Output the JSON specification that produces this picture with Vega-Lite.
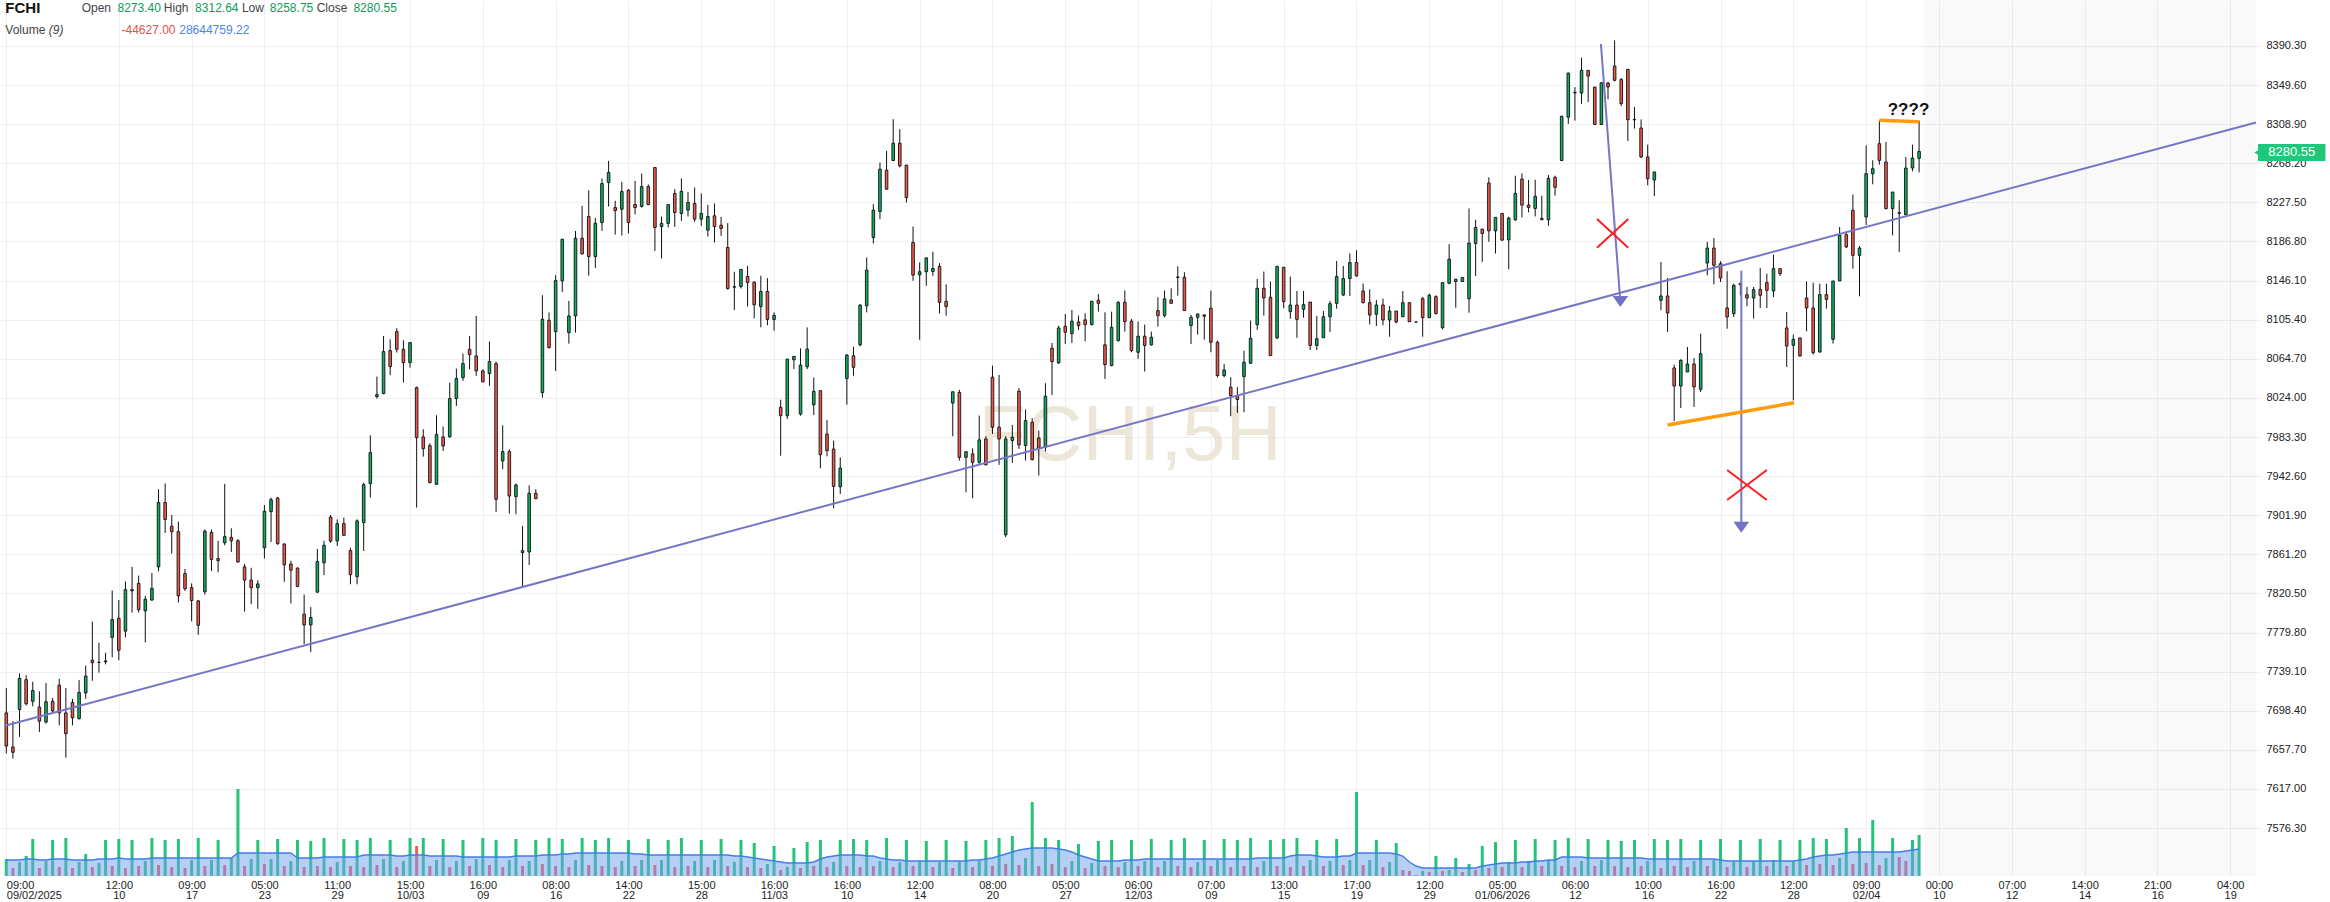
{
"$schema":"https://vega.github.io/schema/vega-lite/v6.json",
"width":2261,"height":876,
"autosize":{"type":"none"},
"padding":{"left":0,"top":0,"right":69,"bottom":26},
"background":"white",
"config":{"view":{"stroke":null},"font":"Liberation Sans"},
"datasets":{
"candles":[
{"i":0,"o":7696.1,"h":7722.0,"l":7653.8,"c":7661.6,"v":17,"u":1,"m":16},
{"i":1,"o":7660.7,"h":7687.5,"l":7648.6,"c":7655.1,"v":8,"u":0,"m":16},
{"i":2,"o":7699.6,"h":7737.2,"l":7671.1,"c":7732.0,"v":14,"u":1,"m":16},
{"i":3,"o":7730.7,"h":7735.4,"l":7703.9,"c":7705.6,"v":20,"u":1,"m":17},
{"i":4,"o":7708.2,"h":7728.5,"l":7703.0,"c":7719.4,"v":37,"u":1,"m":17},
{"i":5,"o":7702.2,"h":7718.6,"l":7676.3,"c":7687.5,"v":8,"u":0,"m":16},
{"i":6,"o":7686.6,"h":7727.2,"l":7684.9,"c":7707.8,"v":15,"u":1,"m":16},
{"i":7,"o":7708.2,"h":7711.7,"l":7697.0,"c":7698.3,"v":36,"u":1,"m":17},
{"i":8,"o":7725.1,"h":7731.5,"l":7683.2,"c":7696.1,"v":9,"u":0,"m":17},
{"i":9,"o":7696.1,"h":7722.0,"l":7649.5,"c":7674.5,"v":38,"u":1,"m":17},
{"i":10,"o":7706.9,"h":7710.8,"l":7683.2,"c":7690.9,"v":8,"u":0,"m":16},
{"i":11,"o":7690.1,"h":7730.2,"l":7689.2,"c":7717.3,"v":14,"u":1,"m":16},
{"i":12,"o":7716.8,"h":7745.4,"l":7710.8,"c":7734.5,"v":22,"u":1,"m":16},
{"i":13,"o":7751.0,"h":7791.1,"l":7729.5,"c":7748.4,"v":9,"u":0,"m":16},
{"i":14,"o":7748.8,"h":7769.1,"l":7738.0,"c":7748.6,"v":13,"u":1,"m":17},
{"i":15,"o":7749.3,"h":7758.7,"l":7746.6,"c":7750.2,"v":36,"u":1,"m":17},
{"i":16,"o":7774.7,"h":7823.5,"l":7754.0,"c":7793.3,"v":10,"u":0,"m":17},
{"i":17,"o":7794.6,"h":7813.6,"l":7751.0,"c":7761.3,"v":37,"u":1,"m":18},
{"i":18,"o":7781.2,"h":7833.0,"l":7774.7,"c":7824.4,"v":8,"u":0,"m":17},
{"i":19,"o":7823.1,"h":7848.1,"l":7800.6,"c":7824.4,"v":36,"u":1,"m":17},
{"i":20,"o":7830.9,"h":7839.1,"l":7800.6,"c":7803.6,"v":10,"u":0,"m":17},
{"i":21,"o":7802.3,"h":7818.0,"l":7769.5,"c":7814.5,"v":15,"u":1,"m":17},
{"i":22,"o":7813.6,"h":7841.7,"l":7812.7,"c":7825.7,"v":38,"u":1,"m":18},
{"i":23,"o":7848.1,"h":7928.9,"l":7843.4,"c":7915.1,"v":11,"u":0,"m":18},
{"i":24,"o":7915.1,"h":7934.9,"l":7883.5,"c":7897.4,"v":36,"u":1,"m":18},
{"i":25,"o":7890.4,"h":7902.1,"l":7861.9,"c":7884.8,"v":9,"u":0,"m":18},
{"i":26,"o":7884.8,"h":7895.2,"l":7811.0,"c":7817.9,"v":37,"u":1,"m":18},
{"i":27,"o":7841.2,"h":7846.0,"l":7823.1,"c":7825.3,"v":8,"u":0,"m":18},
{"i":28,"o":7826.5,"h":7830.9,"l":7791.5,"c":7813.1,"v":16,"u":1,"m":18},
{"i":29,"o":7812.7,"h":7813.6,"l":7777.3,"c":7787.3,"v":38,"u":1,"m":18},
{"i":30,"o":7822.2,"h":7887.0,"l":7819.2,"c":7885.3,"v":10,"u":0,"m":18},
{"i":31,"o":7884.0,"h":7887.0,"l":7843.8,"c":7855.9,"v":16,"u":1,"m":18},
{"i":32,"o":7856.8,"h":7875.3,"l":7842.5,"c":7854.6,"v":36,"u":1,"m":18},
{"i":33,"o":7873.2,"h":7934.5,"l":7870.6,"c":7879.6,"v":11,"u":0,"m":18},
{"i":34,"o":7878.8,"h":7888.3,"l":7863.7,"c":7875.3,"v":18,"u":1,"m":18},
{"i":35,"o":7875.3,"h":7877.1,"l":7852.4,"c":7853.3,"v":87,"u":1,"m":23},
{"i":36,"o":7848.1,"h":7851.1,"l":7801.5,"c":7834.3,"v":10,"u":0,"m":23},
{"i":37,"o":7834.3,"h":7847.2,"l":7809.3,"c":7826.5,"v":17,"u":1,"m":23},
{"i":38,"o":7826.5,"h":7834.3,"l":7804.5,"c":7830.4,"v":36,"u":1,"m":23},
{"i":39,"o":7868.0,"h":7912.5,"l":7856.8,"c":7906.0,"v":12,"u":0,"m":23},
{"i":40,"o":7905.6,"h":7920.3,"l":7874.0,"c":7918.1,"v":17,"u":1,"m":23},
{"i":41,"o":7919.8,"h":7921.0,"l":7871.0,"c":7872.3,"v":37,"u":1,"m":23},
{"i":42,"o":7871.9,"h":7872.7,"l":7832.6,"c":7850.3,"v":10,"u":0,"m":23},
{"i":43,"o":7851.1,"h":7854.5,"l":7810.1,"c":7844.7,"v":15,"u":1,"m":23},
{"i":44,"o":7846.9,"h":7847.5,"l":7827.0,"c":7827.8,"v":36,"u":1,"m":18},
{"i":45,"o":7798.9,"h":7819.2,"l":7767.8,"c":7787.7,"v":9,"u":0,"m":18},
{"i":46,"o":7787.7,"h":7806.2,"l":7759.6,"c":7795.4,"v":35,"u":1,"m":18},
{"i":47,"o":7821.8,"h":7866.7,"l":7821.0,"c":7853.7,"v":10,"u":0,"m":18},
{"i":48,"o":7852.4,"h":7875.3,"l":7839.5,"c":7870.6,"v":38,"u":1,"m":19},
{"i":49,"o":7900.0,"h":7902.1,"l":7873.2,"c":7874.9,"v":9,"u":0,"m":19},
{"i":50,"o":7875.1,"h":7897.6,"l":7869.9,"c":7893.1,"v":14,"u":1,"m":19},
{"i":51,"o":7893.1,"h":7899.4,"l":7880.3,"c":7881.0,"v":37,"u":1,"m":19},
{"i":52,"o":7865.0,"h":7868.0,"l":7830.0,"c":7840.0,"v":10,"u":0,"m":19},
{"i":53,"o":7838.0,"h":7897.6,"l":7830.0,"c":7896.0,"v":36,"u":1,"m":19},
{"i":54,"o":7894.2,"h":7935.8,"l":7864.7,"c":7933.7,"v":9,"u":0,"m":21},
{"i":55,"o":7934.8,"h":7985.1,"l":7920.2,"c":7967.1,"v":38,"u":1,"m":21},
{"i":56,"o":8025.4,"h":8046.2,"l":8023.3,"c":8027.4,"v":11,"u":0,"m":21},
{"i":57,"o":8028.5,"h":8088.5,"l":8027.8,"c":8072.2,"v":17,"u":1,"m":21},
{"i":58,"o":8073.2,"h":8085.0,"l":8047.6,"c":8056.6,"v":36,"u":1,"m":21},
{"i":59,"o":8093.0,"h":8096.5,"l":8071.2,"c":8074.6,"v":9,"u":0,"m":20},
{"i":60,"o":8074.6,"h":8084.0,"l":8039.9,"c":8060.8,"v":15,"u":1,"m":20},
{"i":61,"o":8060.8,"h":8082.0,"l":8055.6,"c":8081.6,"v":38,"u":1,"m":21},
{"i":62,"o":8034.7,"h":8035.8,"l":7909.8,"c":7982.7,"v":30,"u":0,"m":21},
{"i":63,"o":7983.4,"h":7991.4,"l":7962.9,"c":7971.2,"v":38,"u":1,"m":21},
{"i":64,"o":7974.3,"h":7976.8,"l":7935.1,"c":7935.8,"v":10,"u":0,"m":20},
{"i":65,"o":7934.1,"h":8005.9,"l":7933.4,"c":7985.8,"v":16,"u":1,"m":20},
{"i":66,"o":7983.4,"h":7994.1,"l":7968.8,"c":7974.0,"v":37,"u":1,"m":20},
{"i":67,"o":7983.4,"h":8039.9,"l":7982.7,"c":8023.3,"v":9,"u":0,"m":20},
{"i":68,"o":8023.3,"h":8054.5,"l":8015.6,"c":8044.1,"v":15,"u":1,"m":20},
{"i":69,"o":8045.1,"h":8070.1,"l":8041.7,"c":8059.7,"v":36,"u":1,"m":19},
{"i":70,"o":8074.6,"h":8088.5,"l":8053.8,"c":8069.1,"v":10,"u":0,"m":19},
{"i":71,"o":8067.7,"h":8109.4,"l":8046.9,"c":8052.1,"v":17,"u":1,"m":19},
{"i":72,"o":8052.1,"h":8053.8,"l":8040.6,"c":8040.6,"v":38,"u":1,"m":19},
{"i":73,"o":8049.3,"h":8082.6,"l":8036.5,"c":8061.8,"v":11,"u":0,"m":19},
{"i":74,"o":8059.7,"h":8061.8,"l":7905.3,"c":7918.5,"v":36,"u":1,"m":19},
{"i":75,"o":7958.4,"h":7995.5,"l":7949.7,"c":7968.1,"v":9,"u":0,"m":19},
{"i":76,"o":7968.1,"h":7970.5,"l":7903.6,"c":7921.9,"v":16,"u":1,"m":19},
{"i":77,"o":7921.3,"h":7934.8,"l":7902.9,"c":7933.4,"v":37,"u":1,"m":20},
{"i":78,"o":7863.0,"h":7890.7,"l":7828.0,"c":7865.0,"v":10,"u":0,"m":20},
{"i":79,"o":7863.6,"h":7933.0,"l":7850.0,"c":7924.7,"v":15,"u":1,"m":20},
{"i":80,"o":7924.7,"h":7928.9,"l":7918.5,"c":7919.2,"v":36,"u":1,"m":20},
{"i":81,"o":8029.5,"h":8130.9,"l":8024.3,"c":8105.9,"v":12,"u":0,"m":21},
{"i":82,"o":8104.8,"h":8112.8,"l":8075.3,"c":8076.4,"v":38,"u":1,"m":21},
{"i":83,"o":8093.0,"h":8151.7,"l":8052.1,"c":8146.1,"v":10,"u":0,"m":21},
{"i":84,"o":8145.8,"h":8189.2,"l":8134.3,"c":8189.2,"v":37,"u":1,"m":22},
{"i":85,"o":8092.0,"h":8125.0,"l":8080.5,"c":8109.3,"v":9,"u":0,"m":22},
{"i":86,"o":8109.3,"h":8197.8,"l":8092.0,"c":8190.2,"v":16,"u":1,"m":23},
{"i":87,"o":8190.2,"h":8223.9,"l":8173.2,"c":8173.9,"v":38,"u":1,"m":23},
{"i":88,"o":8212.8,"h":8240.2,"l":8151.3,"c":8171.1,"v":11,"u":0,"m":23},
{"i":89,"o":8171.1,"h":8211.4,"l":8159.3,"c":8205.8,"v":36,"u":1,"m":23},
{"i":90,"o":8206.5,"h":8252.3,"l":8197.8,"c":8247.1,"v":10,"u":0,"m":23},
{"i":91,"o":8248.2,"h":8270.7,"l":8223.2,"c":8258.6,"v":38,"u":1,"m":23},
{"i":92,"o":8222.1,"h":8229.1,"l":8194.0,"c":8219.0,"v":9,"u":0,"m":23},
{"i":93,"o":8220.4,"h":8248.9,"l":8193.0,"c":8238.8,"v":15,"u":1,"m":23},
{"i":94,"o":8240.2,"h":8241.2,"l":8195.1,"c":8206.5,"v":36,"u":1,"m":23},
{"i":95,"o":8225.3,"h":8249.9,"l":8214.9,"c":8222.1,"v":10,"u":0,"m":22},
{"i":96,"o":8223.2,"h":8257.5,"l":8222.1,"c":8244.0,"v":16,"u":1,"m":22},
{"i":97,"o":8244.0,"h":8246.1,"l":8224.6,"c":8225.3,"v":37,"u":1,"m":21},
{"i":98,"o":8263.8,"h":8264.0,"l":8177.1,"c":8201.4,"v":11,"u":0,"m":21},
{"i":99,"o":8202.4,"h":8212.8,"l":8169.1,"c":8205.6,"v":16,"u":1,"m":21},
{"i":100,"o":8205.6,"h":8225.3,"l":8201.4,"c":8225.3,"v":36,"u":1,"m":21},
{"i":101,"o":8236.8,"h":8241.3,"l":8202.1,"c":8217.0,"v":9,"u":0,"m":21},
{"i":102,"o":8216.0,"h":8252.4,"l":8208.3,"c":8238.9,"v":38,"u":1,"m":21},
{"i":103,"o":8219.4,"h":8238.5,"l":8212.8,"c":8227.4,"v":10,"u":0,"m":21},
{"i":104,"o":8226.4,"h":8243.0,"l":8207.3,"c":8210.1,"v":15,"u":1,"m":21},
{"i":105,"o":8210.1,"h":8236.8,"l":8203.1,"c":8216.0,"v":36,"u":1,"m":21},
{"i":106,"o":8198.6,"h":8225.0,"l":8192.0,"c":8212.8,"v":9,"u":0,"m":21},
{"i":107,"o":8213.5,"h":8226.4,"l":8185.8,"c":8202.4,"v":16,"u":1,"m":21},
{"i":108,"o":8203.8,"h":8212.5,"l":8192.7,"c":8200.4,"v":37,"u":1,"m":21},
{"i":109,"o":8180.6,"h":8205.9,"l":8136.6,"c":8137.9,"v":10,"u":0,"m":21},
{"i":110,"o":8139.7,"h":8155.3,"l":8115.4,"c":8139.2,"v":14,"u":1,"m":20},
{"i":111,"o":8140.0,"h":8157.7,"l":8137.9,"c":8157.7,"v":36,"u":1,"m":20},
{"i":112,"o":8150.4,"h":8161.5,"l":8119.2,"c":8144.2,"v":9,"u":0,"m":19},
{"i":113,"o":8144.5,"h":8145.2,"l":8106.7,"c":8120.9,"v":33,"u":1,"m":18},
{"i":114,"o":8119.2,"h":8151.1,"l":8097.4,"c":8134.8,"v":8,"u":0,"m":17},
{"i":115,"o":8134.8,"h":8148.7,"l":8099.5,"c":8105.7,"v":12,"u":1,"m":16},
{"i":116,"o":8105.7,"h":8113.0,"l":8093.9,"c":8109.8,"v":30,"u":1,"m":15},
{"i":117,"o":8014.2,"h":8022.1,"l":7963.9,"c":8005.5,"v":6,"u":0,"m":14},
{"i":118,"o":8005.5,"h":8064.4,"l":8002.0,"c":8064.4,"v":9,"u":1,"m":13},
{"i":119,"o":8063.7,"h":8067.2,"l":8054.0,"c":8067.2,"v":28,"u":1,"m":13},
{"i":120,"o":8007.2,"h":8075.5,"l":8005.5,"c":8058.2,"v":8,"u":0,"m":13},
{"i":121,"o":8056.4,"h":8097.4,"l":8054.0,"c":8074.8,"v":34,"u":1,"m":13},
{"i":122,"o":8016.9,"h":8045.3,"l":8006.2,"c":8030.8,"v":10,"u":0,"m":14},
{"i":123,"o":8031.5,"h":8031.5,"l":7950.7,"c":7964.9,"v":36,"u":1,"m":17},
{"i":124,"o":7986.4,"h":8001.0,"l":7963.2,"c":7969.1,"v":9,"u":0,"m":19},
{"i":125,"o":7970.8,"h":7979.5,"l":7909.1,"c":7931.9,"v":14,"u":1,"m":20},
{"i":126,"o":7931.5,"h":7962.1,"l":7924.0,"c":7951.0,"v":36,"u":1,"m":21},
{"i":127,"o":8044.3,"h":8069.6,"l":8016.9,"c":8068.6,"v":10,"u":0,"m":21},
{"i":128,"o":8067.9,"h":8077.3,"l":8047.1,"c":8055.8,"v":37,"u":1,"m":21},
{"i":129,"o":8079.3,"h":8121.6,"l":8077.6,"c":8120.6,"v":9,"u":0,"m":21},
{"i":130,"o":8119.9,"h":8170.2,"l":8113.0,"c":8157.0,"v":36,"u":1,"m":20},
{"i":131,"o":8191.0,"h":8225.7,"l":8184.8,"c":8219.4,"v":10,"u":0,"m":20},
{"i":132,"o":8218.0,"h":8269.0,"l":8210.1,"c":8262.1,"v":15,"u":1,"m":18},
{"i":133,"o":8261.0,"h":8281.2,"l":8240.6,"c":8241.3,"v":38,"u":1,"m":17},
{"i":134,"o":8271.1,"h":8314.1,"l":8270.4,"c":8289.1,"v":9,"u":0,"m":16},
{"i":135,"o":8289.1,"h":8303.7,"l":8263.8,"c":8265.6,"v":14,"u":1,"m":16},
{"i":136,"o":8266.3,"h":8266.3,"l":8227.4,"c":8232.6,"v":36,"u":1,"m":15},
{"i":137,"o":8185.8,"h":8202.4,"l":8145.9,"c":8151.8,"v":10,"u":0,"m":15},
{"i":138,"o":8152.1,"h":8165.0,"l":8084.5,"c":8155.3,"v":15,"u":1,"m":15},
{"i":139,"o":8155.3,"h":8169.8,"l":8140.7,"c":8169.8,"v":35,"u":1,"m":15},
{"i":140,"o":8155.6,"h":8176.1,"l":8151.1,"c":8158.7,"v":9,"u":0,"m":15},
{"i":141,"o":8160.8,"h":8164.3,"l":8111.9,"c":8123.4,"v":14,"u":1,"m":15},
{"i":142,"o":8124.4,"h":8142.1,"l":8109.5,"c":8119.2,"v":36,"u":1,"m":15},
{"i":143,"o":8018.6,"h":8030.4,"l":7984.0,"c":8030.4,"v":8,"u":0,"m":15},
{"i":144,"o":8029.7,"h":8032.5,"l":7958.7,"c":7962.1,"v":14,"u":1,"m":15},
{"i":145,"o":7962.1,"h":7968.0,"l":7925.7,"c":7968.0,"v":35,"u":1,"m":15},
{"i":146,"o":7965.7,"h":7971.6,"l":7919.6,"c":7957.0,"v":9,"u":0,"m":16},
{"i":147,"o":7957.0,"h":8005.6,"l":7955.3,"c":7980.3,"v":15,"u":1,"m":16},
{"i":148,"o":7981.3,"h":7984.1,"l":7954.0,"c":7954.3,"v":36,"u":1,"m":17},
{"i":149,"o":8045.5,"h":8057.6,"l":7986.5,"c":7993.5,"v":10,"u":0,"m":18},
{"i":150,"o":7993.5,"h":8047.9,"l":7954.3,"c":7981.3,"v":38,"u":1,"m":20},
{"i":151,"o":7881.4,"h":7984.1,"l":7879.0,"c":7981.3,"v":12,"u":0,"m":22},
{"i":152,"o":7979.6,"h":7995.9,"l":7956.4,"c":7983.1,"v":40,"u":1,"m":24},
{"i":153,"o":8030.9,"h":8034.1,"l":7970.9,"c":7975.1,"v":11,"u":0,"m":26},
{"i":154,"o":7974.4,"h":8011.9,"l":7958.8,"c":8000.4,"v":18,"u":1,"m":27},
{"i":155,"o":7998.7,"h":8002.8,"l":7958.8,"c":7959.8,"v":74,"u":1,"m":28},
{"i":156,"o":7982.4,"h":7990.0,"l":7943.2,"c":7972.0,"v":10,"u":0,"m":28},
{"i":157,"o":7972.7,"h":8039.3,"l":7968.2,"c":8025.7,"v":38,"u":1,"m":28},
{"i":158,"o":8075.7,"h":8081.2,"l":8027.1,"c":8061.8,"v":12,"u":0,"m":28},
{"i":159,"o":8060.4,"h":8099.3,"l":8059.4,"c":8096.8,"v":36,"u":1,"m":27},
{"i":160,"o":8098.6,"h":8111.4,"l":8080.2,"c":8092.3,"v":9,"u":0,"m":26},
{"i":161,"o":8090.9,"h":8115.6,"l":8081.2,"c":8103.8,"v":15,"u":1,"m":24},
{"i":162,"o":8103.1,"h":8109.7,"l":8094.8,"c":8099.3,"v":32,"u":1,"m":21},
{"i":163,"o":8105.2,"h":8112.1,"l":8083.0,"c":8100.3,"v":8,"u":0,"m":19},
{"i":164,"o":8100.3,"h":8124.6,"l":8099.3,"c":8124.6,"v":13,"u":1,"m":17},
{"i":165,"o":8125.6,"h":8132.2,"l":8113.8,"c":8122.5,"v":35,"u":1,"m":15},
{"i":166,"o":8079.2,"h":8113.1,"l":8043.8,"c":8058.7,"v":10,"u":0,"m":15},
{"i":167,"o":8057.6,"h":8113.8,"l":8056.9,"c":8097.5,"v":36,"u":1,"m":15},
{"i":168,"o":8083.7,"h":8124.6,"l":8082.6,"c":8123.5,"v":9,"u":0,"m":15},
{"i":169,"o":8123.5,"h":8135.7,"l":8093.0,"c":8103.4,"v":14,"u":1,"m":16},
{"i":170,"o":8103.8,"h":8106.2,"l":8071.5,"c":8073.3,"v":36,"u":1,"m":16},
{"i":171,"o":8071.5,"h":8103.4,"l":8064.6,"c":8088.2,"v":10,"u":0,"m":16},
{"i":172,"o":8088.2,"h":8100.3,"l":8051.4,"c":8078.5,"v":15,"u":1,"m":17},
{"i":173,"o":8079.2,"h":8093.0,"l":8078.5,"c":8087.1,"v":37,"u":1,"m":17},
{"i":174,"o":8114.9,"h":8128.8,"l":8098.2,"c":8109.7,"v":9,"u":0,"m":17},
{"i":175,"o":8109.7,"h":8135.7,"l":8107.9,"c":8127.0,"v":15,"u":1,"m":17},
{"i":176,"o":8126.0,"h":8138.1,"l":8121.8,"c":8122.5,"v":36,"u":1,"m":17},
{"i":177,"o":8149.9,"h":8161.0,"l":8130.5,"c":8149.3,"v":10,"u":0,"m":17},
{"i":178,"o":8149.6,"h":8154.8,"l":8114.9,"c":8114.9,"v":38,"u":1,"m":17},
{"i":179,"o":8099.3,"h":8110.4,"l":8080.2,"c":8107.9,"v":9,"u":0,"m":17},
{"i":180,"o":8107.9,"h":8111.4,"l":8089.9,"c":8111.4,"v":14,"u":1,"m":17},
{"i":181,"o":8110.4,"h":8110.6,"l":8084.7,"c":8109.0,"v":36,"u":1,"m":17},
{"i":182,"o":8117.3,"h":8135.7,"l":8071.5,"c":8081.9,"v":10,"u":0,"m":17},
{"i":183,"o":8081.9,"h":8083.7,"l":8045.5,"c":8047.2,"v":16,"u":1,"m":17},
{"i":184,"o":8047.2,"h":8059.4,"l":8045.5,"c":8053.1,"v":37,"u":1,"m":17},
{"i":185,"o":8035.1,"h":8045.5,"l":8004.9,"c":8026.4,"v":9,"u":0,"m":17},
{"i":186,"o":8026.4,"h":8035.1,"l":8008.4,"c":8022.3,"v":36,"u":1,"m":17},
{"i":187,"o":8046.2,"h":8073.2,"l":8009.1,"c":8061.1,"v":10,"u":0,"m":17},
{"i":188,"o":8060.1,"h":8104.5,"l":8059.4,"c":8086.1,"v":38,"u":1,"m":17},
{"i":189,"o":8100.3,"h":8147.8,"l":8094.8,"c":8138.1,"v":9,"u":0,"m":18},
{"i":190,"o":8138.1,"h":8155.5,"l":8109.7,"c":8128.1,"v":15,"u":1,"m":18},
{"i":191,"o":8128.8,"h":8145.1,"l":8068.1,"c":8068.1,"v":36,"u":1,"m":18},
{"i":192,"o":8086.4,"h":8161.7,"l":8085.4,"c":8160.7,"v":10,"u":0,"m":18},
{"i":193,"o":8160.0,"h":8160.0,"l":8117.3,"c":8124.2,"v":37,"u":1,"m":18},
{"i":194,"o":8113.8,"h":8150.3,"l":8106.4,"c":8120.7,"v":9,"u":0,"m":20},
{"i":195,"o":8120.7,"h":8135.3,"l":8086.6,"c":8105.8,"v":38,"u":1,"m":21},
{"i":196,"o":8116.2,"h":8135.3,"l":8107.5,"c":8121.1,"v":10,"u":0,"m":21},
{"i":197,"o":8123.8,"h":8123.8,"l":8073.8,"c":8078.6,"v":16,"u":1,"m":21},
{"i":198,"o":8078.6,"h":8109.2,"l":8073.8,"c":8085.6,"v":36,"u":1,"m":20},
{"i":199,"o":8086.6,"h":8114.4,"l":8086.6,"c":8108.5,"v":10,"u":0,"m":19},
{"i":200,"o":8108.5,"h":8124.8,"l":8092.6,"c":8122.1,"v":15,"u":1,"m":19},
{"i":201,"o":8122.4,"h":8166.6,"l":8116.9,"c":8150.3,"v":37,"u":1,"m":19},
{"i":202,"o":8131.2,"h":8161.4,"l":8130.1,"c":8148.2,"v":11,"u":0,"m":20},
{"i":203,"o":8148.2,"h":8174.3,"l":8130.1,"c":8164.9,"v":16,"u":1,"m":20},
{"i":204,"o":8164.9,"h":8177.8,"l":8150.3,"c":8151.0,"v":84,"u":1,"m":23},
{"i":205,"o":8135.3,"h":8143.0,"l":8122.4,"c":8123.1,"v":11,"u":0,"m":23},
{"i":206,"o":8123.1,"h":8137.0,"l":8100.5,"c":8110.3,"v":16,"u":1,"m":23},
{"i":207,"o":8111.0,"h":8125.9,"l":8098.8,"c":8120.7,"v":36,"u":1,"m":23},
{"i":208,"o":8120.7,"h":8127.3,"l":8099.5,"c":8105.1,"v":9,"u":0,"m":23},
{"i":209,"o":8105.1,"h":8119.7,"l":8087.7,"c":8114.4,"v":14,"u":1,"m":23},
{"i":210,"o":8114.4,"h":8114.4,"l":8101.6,"c":8103.0,"v":33,"u":1,"m":22},
{"i":211,"o":8108.5,"h":8135.3,"l":8108.5,"c":8123.1,"v":6,"u":0,"m":20},
{"i":212,"o":8123.1,"h":8123.5,"l":8103.0,"c":8103.3,"v":5,"u":0,"m":14},
{"i":213,"o":8103.0,"h":8103.5,"l":8102.6,"c":8103.0,"v":1,"u":0,"m":10},
{"i":214,"o":8127.3,"h":8129.1,"l":8087.7,"c":8107.5,"v":5,"u":1,"m":8},
{"i":215,"o":8107.5,"h":8132.5,"l":8107.5,"c":8130.8,"v":4,"u":0,"m":8},
{"i":216,"o":8129.4,"h":8130.8,"l":8111.0,"c":8111.7,"v":20,"u":1,"m":8},
{"i":217,"o":8097.1,"h":8144.0,"l":8095.3,"c":8144.0,"v":5,"u":0,"m":8},
{"i":218,"o":8143.3,"h":8184.0,"l":8142.3,"c":8168.4,"v":6,"u":1,"m":8},
{"i":219,"o":8145.1,"h":8147.6,"l":8117.9,"c":8147.6,"v":18,"u":1,"m":8},
{"i":220,"o":8145.1,"h":8149.3,"l":8145.1,"c":8149.2,"v":4,"u":0,"m":8},
{"i":221,"o":8127.3,"h":8221.2,"l":8112.7,"c":8185.1,"v":12,"u":1,"m":8},
{"i":222,"o":8184.7,"h":8209.4,"l":8151.0,"c":8201.4,"v":6,"u":0,"m":8},
{"i":223,"o":8199.7,"h":8199.7,"l":8165.6,"c":8195.2,"v":30,"u":1,"m":10},
{"i":224,"o":8247.7,"h":8253.6,"l":8186.5,"c":8197.9,"v":8,"u":0,"m":11},
{"i":225,"o":8197.9,"h":8211.9,"l":8174.3,"c":8211.9,"v":34,"u":1,"m":12},
{"i":226,"o":8216.0,"h":8216.0,"l":8187.5,"c":8188.2,"v":9,"u":0,"m":13},
{"i":227,"o":8188.5,"h":8212.6,"l":8157.9,"c":8211.2,"v":14,"u":1,"m":13},
{"i":228,"o":8209.4,"h":8255.3,"l":8208.4,"c":8236.9,"v":36,"u":1,"m":13},
{"i":229,"o":8251.8,"h":8257.8,"l":8211.9,"c":8224.7,"v":9,"u":0,"m":14},
{"i":230,"o":8224.7,"h":8250.8,"l":8217.1,"c":8222.3,"v":15,"u":1,"m":14},
{"i":231,"o":8221.2,"h":8251.1,"l":8212.9,"c":8233.8,"v":37,"u":1,"m":15},
{"i":232,"o":8210.8,"h":8234.5,"l":8209.4,"c":8209.4,"v":10,"u":0,"m":15},
{"i":233,"o":8209.4,"h":8256.0,"l":8203.2,"c":8252.5,"v":16,"u":1,"m":16},
{"i":234,"o":8253.6,"h":8255.3,"l":8234.5,"c":8243.2,"v":36,"u":1,"m":16},
{"i":235,"o":8271.0,"h":8317.5,"l":8270.5,"c":8317.2,"v":10,"u":0,"m":19},
{"i":236,"o":8316.2,"h":8362.5,"l":8309.3,"c":8362.1,"v":38,"u":1,"m":19},
{"i":237,"o":8342.0,"h":8347.5,"l":8312.7,"c":8341.5,"v":9,"u":0,"m":19},
{"i":238,"o":8341.3,"h":8378.1,"l":8330.1,"c":8364.9,"v":15,"u":1,"m":19},
{"i":239,"o":8364.9,"h":8364.9,"l":8331.9,"c":8359.0,"v":37,"u":1,"m":18},
{"i":240,"o":8347.5,"h":8347.8,"l":8308.3,"c":8308.6,"v":10,"u":0,"m":18},
{"i":241,"o":8308.6,"h":8352.7,"l":8308.3,"c":8352.0,"v":16,"u":1,"m":18},
{"i":242,"o":8351.8,"h":8352.8,"l":8334.8,"c":8347.6,"v":36,"u":1,"m":18},
{"i":243,"o":8369.5,"h":8396.2,"l":8353.5,"c":8354.6,"v":10,"u":0,"m":18},
{"i":244,"o":8355.3,"h":8357.0,"l":8327.8,"c":8330.3,"v":35,"u":1,"m":18},
{"i":245,"o":8366.0,"h":8366.0,"l":8291.4,"c":8313.6,"v":9,"u":0,"m":18},
{"i":246,"o":8313.8,"h":8326.8,"l":8304.3,"c":8313.5,"v":36,"u":1,"m":18},
{"i":247,"o":8304.9,"h":8313.9,"l":8273.7,"c":8274.8,"v":10,"u":0,"m":18},
{"i":248,"o":8274.8,"h":8287.6,"l":8245.3,"c":8252.2,"v":15,"u":1,"m":17},
{"i":249,"o":8250.8,"h":8259.2,"l":8234.2,"c":8259.2,"v":37,"u":1,"m":17},
{"i":250,"o":8125.6,"h":8165.5,"l":8115.2,"c":8130.1,"v":8,"u":0,"m":17},
{"i":251,"o":8130.1,"h":8148.8,"l":8092.6,"c":8112.4,"v":36,"u":1,"m":17},
{"i":252,"o":8055.2,"h":8058.6,"l":7999.9,"c":8036.4,"v":10,"u":0,"m":17},
{"i":253,"o":8036.4,"h":8064.2,"l":8013.5,"c":8063.1,"v":37,"u":1,"m":17},
{"i":254,"o":8051.0,"h":8077.0,"l":8051.0,"c":8059.3,"v":9,"u":0,"m":17},
{"i":255,"o":8059.3,"h":8065.5,"l":8014.6,"c":8035.4,"v":15,"u":1,"m":17},
{"i":256,"o":8032.9,"h":8090.9,"l":8030.2,"c":8070.1,"v":36,"u":1,"m":17},
{"i":257,"o":8164.4,"h":8186.3,"l":8151.6,"c":8180.0,"v":10,"u":0,"m":17},
{"i":258,"o":8180.0,"h":8190.4,"l":8142.2,"c":8162.0,"v":16,"u":1,"m":17},
{"i":259,"o":8163.7,"h":8166.2,"l":8144.6,"c":8148.8,"v":37,"u":1,"m":16},
{"i":260,"o":8117.6,"h":8155.8,"l":8096.1,"c":8108.2,"v":9,"u":0,"m":15},
{"i":261,"o":8111.7,"h":8142.9,"l":8108.2,"c":8141.2,"v":14,"u":1,"m":15},
{"i":262,"o":8143.3,"h":8143.6,"l":8130.8,"c":8141.9,"v":36,"u":1,"m":15},
{"i":263,"o":8131.5,"h":8139.5,"l":8119.3,"c":8128.0,"v":9,"u":0,"m":15},
{"i":264,"o":8128.0,"h":8139.5,"l":8106.5,"c":8136.7,"v":15,"u":1,"m":15},
{"i":265,"o":8137.0,"h":8159.2,"l":8117.6,"c":8130.8,"v":37,"u":1,"m":15},
{"i":266,"o":8144.0,"h":8153.3,"l":8117.6,"c":8136.0,"v":10,"u":0,"m":15},
{"i":267,"o":8135.3,"h":8173.1,"l":8129.0,"c":8158.5,"v":16,"u":1,"m":15},
{"i":268,"o":8158.5,"h":8159.2,"l":8150.9,"c":8153.3,"v":36,"u":1,"m":15},
{"i":269,"o":8096.8,"h":8113.4,"l":8056.2,"c":8078.0,"v":10,"u":0,"m":15},
{"i":270,"o":8078.7,"h":8089.8,"l":8021.5,"c":8085.0,"v":15,"u":1,"m":15},
{"i":271,"o":8086.4,"h":8086.8,"l":8067.2,"c":8067.6,"v":36,"u":1,"m":16},
{"i":272,"o":8128.0,"h":8145.3,"l":8093.3,"c":8117.6,"v":11,"u":0,"m":17},
{"i":273,"o":8117.6,"h":8143.9,"l":8069.0,"c":8071.1,"v":38,"u":1,"m":19},
{"i":274,"o":8071.8,"h":8142.9,"l":8071.1,"c":8131.5,"v":12,"u":0,"m":20},
{"i":275,"o":8131.5,"h":8142.9,"l":8116.9,"c":8126.6,"v":37,"u":1,"m":21},
{"i":276,"o":8085.0,"h":8145.7,"l":8080.5,"c":8145.7,"v":11,"u":0,"m":21},
{"i":277,"o":8145.7,"h":8201.9,"l":8145.7,"c":8193.2,"v":18,"u":1,"m":22},
{"i":278,"o":8193.9,"h":8197.4,"l":8180.0,"c":8181.1,"v":48,"u":1,"m":23},
{"i":279,"o":8219.2,"h":8235.6,"l":8158.5,"c":8172.4,"v":12,"u":0,"m":24},
{"i":280,"o":8172.4,"h":8182.1,"l":8129.7,"c":8180.0,"v":38,"u":1,"m":24},
{"i":281,"o":8212.3,"h":8286.9,"l":8204.0,"c":8257.4,"v":13,"u":0,"m":24},
{"i":282,"o":8257.4,"h":8271.3,"l":8246.3,"c":8262.6,"v":56,"u":1,"m":24},
{"i":283,"o":8288.6,"h":8312.9,"l":8266.8,"c":8271.3,"v":11,"u":0,"m":24},
{"i":284,"o":8269.6,"h":8290.4,"l":8220.3,"c":8221.0,"v":18,"u":1,"m":24},
{"i":285,"o":8221.0,"h":8238.3,"l":8193.2,"c":8238.3,"v":38,"u":1,"m":24},
{"i":286,"o":8216.8,"h":8229.7,"l":8175.9,"c":8216.0,"v":19,"u":0,"m":24},
{"i":287,"o":8214.7,"h":8274.8,"l":8214.7,"c":8263.3,"v":15,"u":0,"m":25},
{"i":288,"o":8263.3,"h":8287.6,"l":8259.8,"c":8273.7,"v":36,"u":1,"m":26},
{"i":289,"o":8273.4,"h":8312.64,"l":8258.75,"c":8280.55,"v":41,"u":1,"m":27}
]
},
"resolve":{"scale":{"y":"independent"}},
"layer":[
{"layer":[
 {"data":{"name":"candles"},
  "mark":{"type":"bar","size":3},
  "encoding":{
   "x":{"field":"i","type":"quantitative","scale":{"domain":[-0.1955,339.905],"nice":false,"zero":false}},
   "y":{"field":"v","type":"quantitative","scale":{"domain":[0,876],"nice":false,"zero":true},"axis":null},
   "fill":{"condition":{"test":"datum.u == 1","value":"#26c27d"},"value":"#e2605f"}}},
 {"data":{"name":"candles"},
  "mark":{"type":"area","color":"#6f9ff0","opacity":0.5,"line":{"color":"#3f7fe6","strokeWidth":1.4}},
  "encoding":{
   "x":{"field":"i","type":"quantitative","scale":{"domain":[-0.1955,339.905],"nice":false,"zero":false}},
   "y":{"field":"m","type":"quantitative","scale":{"domain":[0,876],"nice":false,"zero":true},"axis":null}}}
]},
{"layer":[
{"data":{"values":[{"x":289.8,"x2":339.905,"y":7526.34,"y2":8438.18}]},
 "mark":{"type":"rect","fill":"#000000","opacity":0.022},
 "encoding":{
  "x":{"field":"x","type":"quantitative","scale":{"domain":[-0.1955,339.905],"nice":false,"zero":false},
   "axis":{"orient":"bottom","title":null,"values":[0,17,28,39,50,61,72,83,94,105,116,127,138,149,160,171,182,193,204,215,226,237,248,259,270,281,292,303,314,325,336],
    "labelExpr":"datum.value == 0 ? ['09:00','09/02/2025'] : [['12:00','10'],['09:00','17'],['05:00','23'],['11:00','29'],['15:00','10/03'],['16:00','09'],['08:00','16'],['14:00','22'],['15:00','28'],['16:00','11/03'],['16:00','10'],['12:00','14'],['08:00','20'],['05:00','27'],['06:00','12/03'],['07:00','09'],['13:00','15'],['17:00','19'],['12:00','29'],['05:00','01/06/2026'],['06:00','12'],['10:00','16'],['16:00','22'],['12:00','28'],['09:00','02/04'],['00:00','10'],['07:00','12'],['14:00','14'],['21:00','16'],['04:00','19']][round((datum.value-17)/11)]",
    "grid":true,"gridColor":"#efefef","gridWidth":1,"domain":false,"ticks":false,
    "labelAlign":{"condition":{"test":"datum.value == 0","value":"left"},"value":"center"},
    "labelFontSize":11,"labelColor":"#222222","labelPadding":3,"labelBaseline":"top","labelLineHeight":10,"labelFlush":false,"labelOverlap":false,"labelFont":"Liberation Sans"}},
  "x2":{"field":"x2"},
  "y":{"field":"y","type":"quantitative","scale":{"domain":[7526.34,8438.18],"nice":false,"zero":false},
   "axis":{"orient":"right","title":null,"values":[7576.3,7617.0,7657.7,7698.4,7739.1,7779.8,7820.5,7861.2,7901.9,7942.6,7983.3,8024.0,8064.7,8105.4,8146.1,8186.8,8227.5,8268.2,8308.9,8349.6,8390.3],
    "format":".2f","grid":true,"gridColor":"#efefef","gridWidth":1,"domain":false,"ticks":false,
    "labelFontSize":11,"labelColor":"#222222","labelPadding":5,"labelAlign":"left","labelBaseline":"middle","labelFont":"Liberation Sans","labelOverlap":false}},
  "y2":{"field":"y2"}}},
{"data":{"values":[{"x":169.8,"y":7959.4,"t":"FCHI,5H"}]},
 "mark":{"type":"text","fontSize":78,"align":"center","baseline":"alphabetic","color":"#e6e0cc","opacity":0.75,"font":"Liberation Sans"},
 "encoding":{
  "x":{"field":"x","type":"quantitative","scale":{"domain":[-0.1955,339.905],"nice":false,"zero":false}},
  "y":{"field":"y","type":"quantitative","scale":{"domain":[7526.34,8438.18],"nice":false,"zero":false}},
  "text":{"field":"t"}}},
{"data":{"name":"candles"},
 "mark":{"type":"rule","color":"#111111","strokeWidth":1},
 "encoding":{
  "x":{"field":"i","type":"quantitative","scale":{"domain":[-0.1955,339.905],"nice":false,"zero":false}},
  "y":{"field":"l","type":"quantitative","scale":{"domain":[7526.34,8438.18],"nice":false,"zero":false}},
  "y2":{"field":"h"}}},
{"data":{"name":"candles"},
 "mark":{"type":"bar","size":2.6,"stroke":"#111111","strokeWidth":0.9},
 "encoding":{
  "x":{"field":"i","type":"quantitative","scale":{"domain":[-0.1955,339.905],"nice":false,"zero":false}},
  "y":{"field":"o","type":"quantitative","scale":{"domain":[7526.34,8438.18],"nice":false,"zero":false}},
  "y2":{"field":"c"},
  "fill":{"condition":{"test":"datum.c >= datum.o","value":"#0fae62"},"value":"#f0584e"}}},
{"data":{"values":[
  {"x":-0.1955,"y":7682.8,"x2":339.905,"y2":8310.7,"k":"trend"},
  {"x":240.93,"y":8392.4,"x2":243.8,"y2":8130.1,"k":"arrow1"},
  {"x":262.14,"y":8156.4,"x2":262.14,"y2":7894.8,"k":"arrow2"}]},
 "mark":{"type":"rule","color":"#7676c6","strokeWidth":2},
 "encoding":{
  "x":{"field":"x","type":"quantitative","scale":{"domain":[-0.1955,339.905],"nice":false,"zero":false}},
  "y":{"field":"y","type":"quantitative","scale":{"domain":[7526.34,8438.18],"nice":false,"zero":false}},
  "x2":{"field":"x2"},"y2":{"field":"y2"}}},
{"data":{"values":[{"x":243.87,"y":8124.4},{"x":262.14,"y":7889.4}]},
 "mark":{"type":"point","shape":"M-1,-0.7L1,-0.7L0,0.7Z","filled":true,"size":246,"color":"#6c6cc0","opacity":0.95},
 "encoding":{
  "x":{"field":"x","type":"quantitative","scale":{"domain":[-0.1955,339.905],"nice":false,"zero":false}},
  "y":{"field":"y","type":"quantitative","scale":{"domain":[7526.34,8438.18],"nice":false,"zero":false}}}},
{"data":{"values":[
  {"x":240.34,"y":8210.2,"x2":245.06,"y2":8180.4},
  {"x":240.34,"y":8180.4,"x2":245.06,"y2":8210.2},
  {"x":260.0,"y":7948.9,"x2":266.0,"y2":7917.7},
  {"x":260.0,"y":7917.7,"x2":266.0,"y2":7948.9}]},
 "mark":{"type":"rule","color":"#ff1f1f","strokeWidth":2},
 "encoding":{
  "x":{"field":"x","type":"quantitative","scale":{"domain":[-0.1955,339.905],"nice":false,"zero":false}},
  "y":{"field":"y","type":"quantitative","scale":{"domain":[7526.34,8438.18],"nice":false,"zero":false}},
  "x2":{"field":"x2"},"y2":{"field":"y2"}}},
{"data":{"values":[
  {"x":251.0,"y":7995.8,"x2":270.1,"y2":8019.0},
  {"x":283.0,"y":8312.9,"x2":289.0,"y2":8311.5}]},
 "mark":{"type":"rule","color":"#ff9c0a","strokeWidth":3.5},
 "encoding":{
  "x":{"field":"x","type":"quantitative","scale":{"domain":[-0.1955,339.905],"nice":false,"zero":false}},
  "y":{"field":"y","type":"quantitative","scale":{"domain":[7526.34,8438.18],"nice":false,"zero":false}},
  "x2":{"field":"x2"},"y2":{"field":"y2"}}},
{"data":{"values":[{"x":287.4,"y":8323.7,"t":"????"}]},
 "mark":{"type":"text","fontSize":17,"fontWeight":"bold","align":"center","baseline":"middle","color":"#111111"},
 "encoding":{
  "x":{"field":"x","type":"quantitative","scale":{"domain":[-0.1955,339.905],"nice":false,"zero":false}},
  "y":{"field":"y","type":"quantitative","scale":{"domain":[7526.34,8438.18],"nice":false,"zero":false}},
  "text":{"field":"t"}}},
{"data":{"values":[{"x":-0.15,"y":8430.3,"t":"FCHI"}]},
 "mark":{"type":"text","fontSize":15,"fontWeight":"bold","align":"left","baseline":"middle","color":"#111111"},
 "encoding":{
  "x":{"field":"x","type":"quantitative","scale":{"domain":[-0.1955,339.905],"nice":false,"zero":false}},
  "y":{"field":"y","type":"quantitative","scale":{"domain":[7526.34,8438.18],"nice":false,"zero":false}},
  "text":{"field":"t"}}},
{"data":{"values":[{"x":11.39,"y":8429.85,"t":"Open"},{"x":23.8,"y":8429.85,"t":"High"},{"x":35.6,"y":8429.85,"t":"Low"},{"x":46.89,"y":8429.85,"t":"Close"},{"x":-0.15,"y":8406.95,"t":"Volume"}]},
 "mark":{"type":"text","fontSize":12,"align":"left","baseline":"middle","color":"#444444"},
 "encoding":{
  "x":{"field":"x","type":"quantitative","scale":{"domain":[-0.1955,339.905],"nice":false,"zero":false}},
  "y":{"field":"y","type":"quantitative","scale":{"domain":[7526.34,8438.18],"nice":false,"zero":false}},
  "text":{"field":"t"}}},
{"data":{"values":[{"x":6.42,"y":8406.95,"t":"(9)"}]},
 "mark":{"type":"text","fontSize":12,"fontStyle":"italic","align":"left","baseline":"middle","color":"#444444"},
 "encoding":{
  "x":{"field":"x","type":"quantitative","scale":{"domain":[-0.1955,339.905],"nice":false,"zero":false}},
  "y":{"field":"y","type":"quantitative","scale":{"domain":[7526.34,8438.18],"nice":false,"zero":false}},
  "text":{"field":"t"}}},
{"data":{"values":[{"x":16.8,"y":8429.85,"t":"8273.40"},{"x":28.53,"y":8429.85,"t":"8312.64"},{"x":39.82,"y":8429.85,"t":"8258.75"},{"x":52.45,"y":8429.85,"t":"8280.55"}]},
 "mark":{"type":"text","fontSize":12,"align":"left","baseline":"middle","color":"#0c9d58"},
 "encoding":{
  "x":{"field":"x","type":"quantitative","scale":{"domain":[-0.1955,339.905],"nice":false,"zero":false}},
  "y":{"field":"y","type":"quantitative","scale":{"domain":[7526.34,8438.18],"nice":false,"zero":false}},
  "text":{"field":"t"}}},
{"data":{"values":[{"x":17.4,"y":8406.95,"t":"-44627.00"}]},
 "mark":{"type":"text","fontSize":12,"align":"left","baseline":"middle","color":"#e0524c"},
 "encoding":{
  "x":{"field":"x","type":"quantitative","scale":{"domain":[-0.1955,339.905],"nice":false,"zero":false}},
  "y":{"field":"y","type":"quantitative","scale":{"domain":[7526.34,8438.18],"nice":false,"zero":false}},
  "text":{"field":"t"}}},
{"data":{"values":[{"x":26.13,"y":8406.95,"t":"28644759.22"}]},
 "mark":{"type":"text","fontSize":12,"align":"left","baseline":"middle","color":"#4a86e8"},
 "encoding":{
  "x":{"field":"x","type":"quantitative","scale":{"domain":[-0.1955,339.905],"nice":false,"zero":false}},
  "y":{"field":"y","type":"quantitative","scale":{"domain":[7526.34,8438.18],"nice":false,"zero":false}},
  "text":{"field":"t"}}},
{"data":{"values":[{"x":340.2,"x2":350.4,"y":8288.3,"y2":8270.6}]},
 "mark":{"type":"rect","fill":"#1fc77c","cornerRadius":1},
 "encoding":{
  "x":{"field":"x","type":"quantitative","scale":{"domain":[-0.1955,339.905],"nice":false,"zero":false}},
  "x2":{"field":"x2"},
  "y":{"field":"y","type":"quantitative","scale":{"domain":[7526.34,8438.18],"nice":false,"zero":false}},
  "y2":{"field":"y2"}}},
{"data":{"values":[{"x":340.0,"y":8279.5}]},
 "mark":{"type":"point","shape":"triangle-left","filled":true,"size":30,"color":"#1fc77c","opacity":1},
 "encoding":{
  "x":{"field":"x","type":"quantitative","scale":{"domain":[-0.1955,339.905],"nice":false,"zero":false}},
  "y":{"field":"y","type":"quantitative","scale":{"domain":[7526.34,8438.18],"nice":false,"zero":false}}}},
{"data":{"values":[{"x":345.3,"y":8279.5,"t":"8280.55"}]},
 "mark":{"type":"text","fontSize":13,"align":"center","baseline":"middle","color":"#ffffff"},
 "encoding":{
  "x":{"field":"x","type":"quantitative","scale":{"domain":[-0.1955,339.905],"nice":false,"zero":false}},
  "y":{"field":"y","type":"quantitative","scale":{"domain":[7526.34,8438.18],"nice":false,"zero":false}},
  "text":{"field":"t"}}}
]}
]
}
